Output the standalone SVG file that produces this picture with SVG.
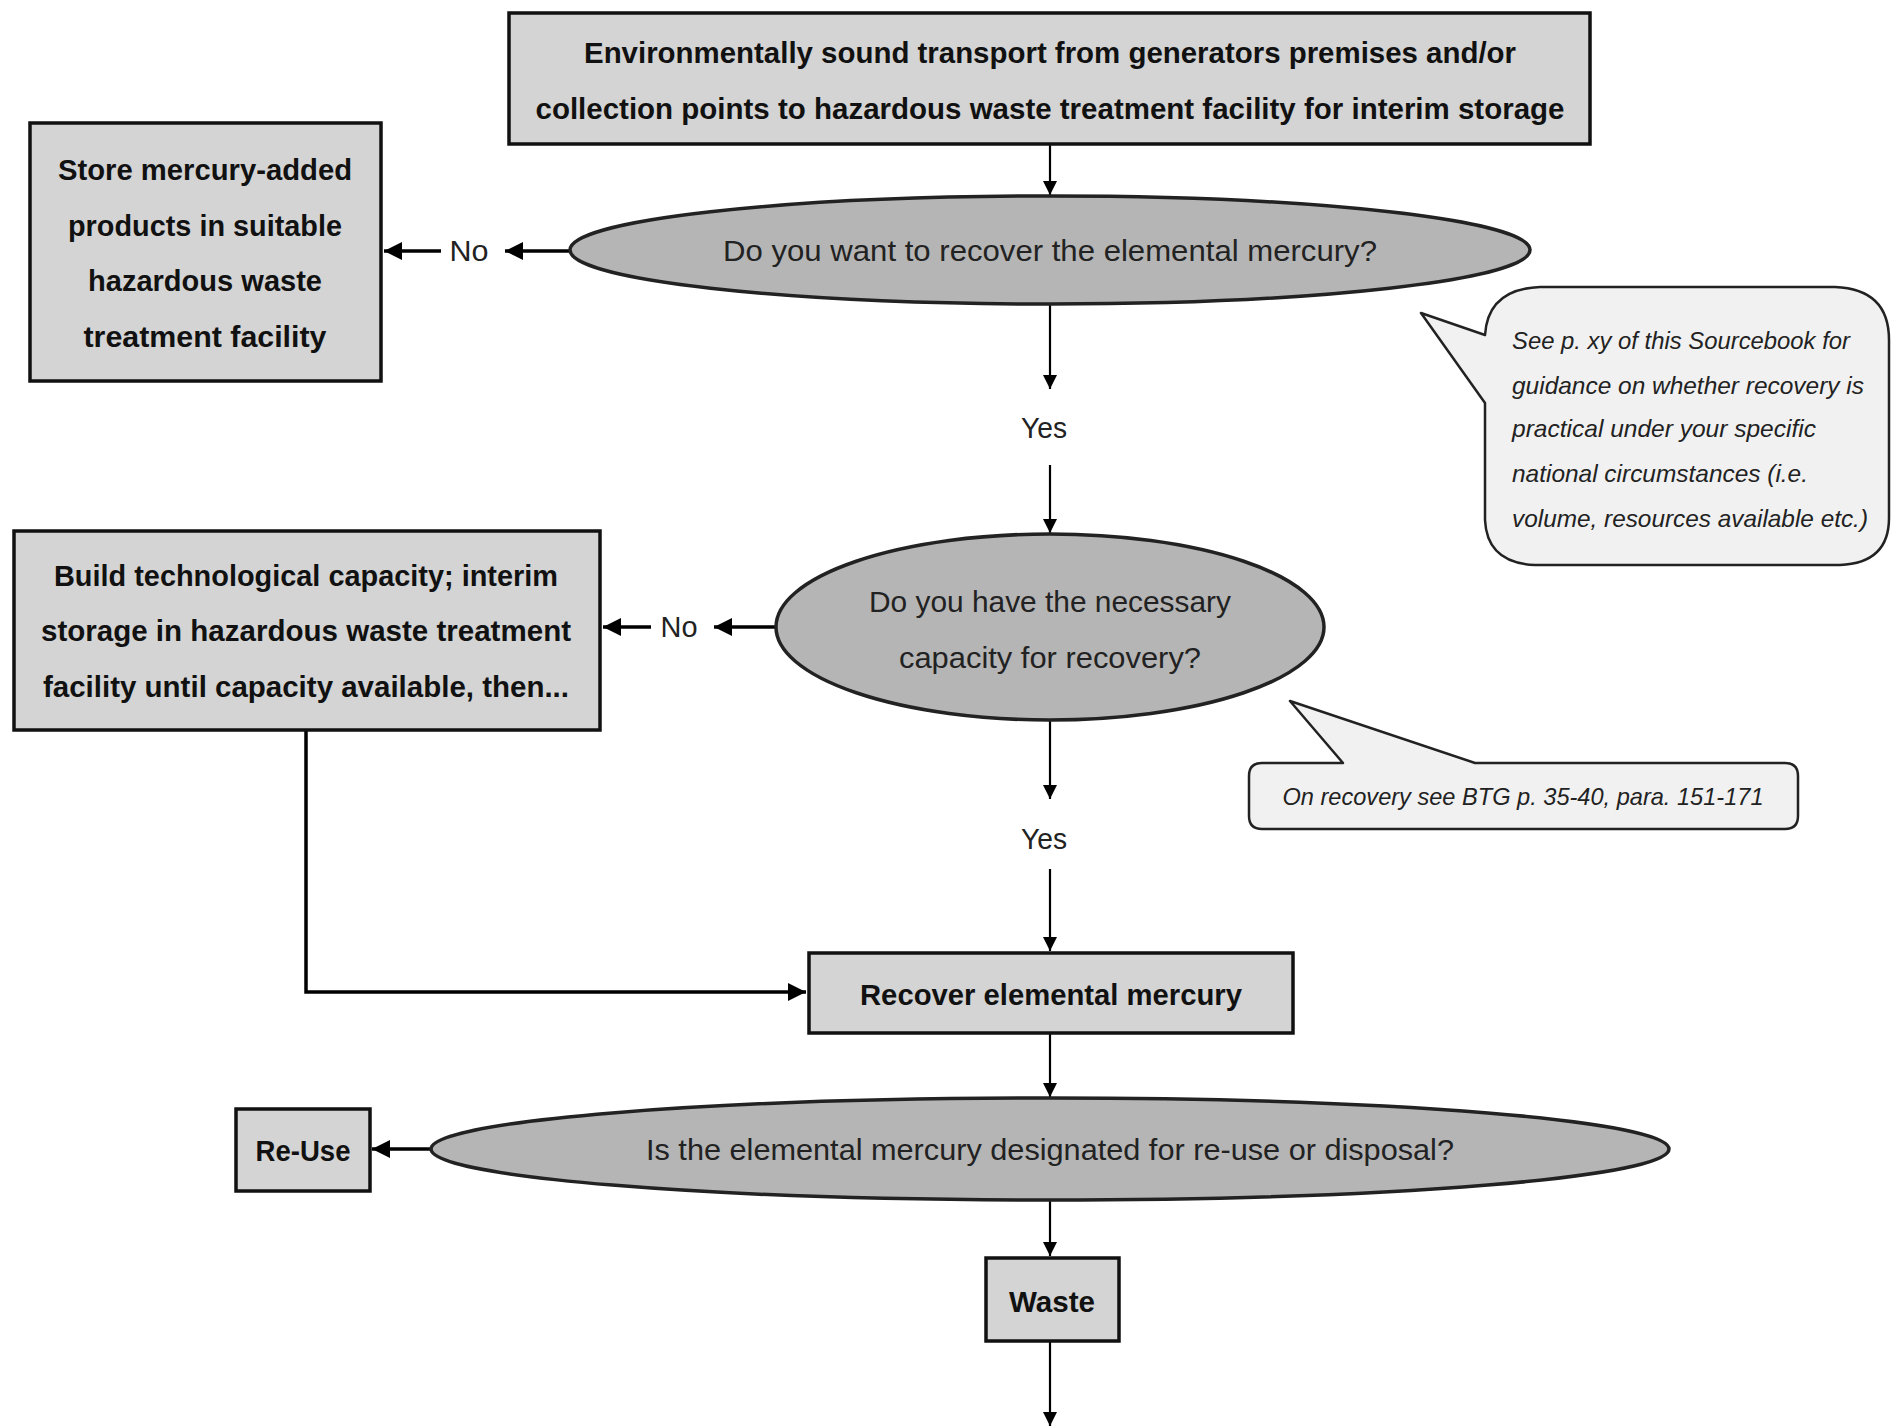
<svg xmlns="http://www.w3.org/2000/svg" width="1892" height="1426" viewBox="0 0 1892 1426">
<style>
.box{fill:#d4d4d4;stroke:#111;stroke-width:3.5}
.ell{fill:#b5b5b5;stroke:#222;stroke-width:3.5}
.call{fill:#f1f1f1;stroke:#222;stroke-width:2.5;stroke-linejoin:round}
.b{font-family:"Liberation Sans Narrow","Liberation Sans",Arial,sans-serif;font-weight:bold;font-size:29px;fill:#111;text-anchor:middle;dominant-baseline:central}
.r{font-family:"Liberation Sans Narrow","Liberation Sans",Arial,sans-serif;font-size:29px;fill:#222;text-anchor:middle;dominant-baseline:central}
.i{font-family:"Liberation Sans Narrow","Liberation Sans",Arial,sans-serif;font-style:italic;font-size:24px;fill:#222;dominant-baseline:central}
.c{fill:none;stroke:#000;stroke-width:2.2}
.ct{fill:none;stroke:#000;stroke-width:3.5}
</style>
<defs>
<marker id="ah" viewBox="0 0 10 10" refX="10" refY="5" markerUnits="userSpaceOnUse" markerWidth="14" markerHeight="14" orient="auto"><path d="M0,0 L10,5 L0,10 z" fill="#000"/></marker>
<marker id="ahb" viewBox="0 0 10 10" refX="10" refY="5" markerUnits="userSpaceOnUse" markerWidth="18" markerHeight="18" orient="auto"><path d="M0,0 L10,5 L0,10 z" fill="#000"/></marker>
</defs>
<g id="connectors">
<line class="c" x1="1050" y1="144" x2="1050" y2="195" marker-end="url(#ah)"/>
<line class="ct" x1="569" y1="251" x2="505" y2="251" marker-end="url(#ahb)"/>
<line class="ct" x1="441" y1="251" x2="384" y2="251" marker-end="url(#ahb)"/>
<line class="c" x1="1050" y1="304" x2="1050" y2="389" marker-end="url(#ah)"/>
<line class="c" x1="1050" y1="465" x2="1050" y2="533" marker-end="url(#ah)"/>
<line class="ct" x1="776" y1="627" x2="714" y2="627" marker-end="url(#ahb)"/>
<line class="ct" x1="651" y1="627" x2="603" y2="627" marker-end="url(#ahb)"/>
<line class="c" x1="1050" y1="720" x2="1050" y2="799" marker-end="url(#ah)"/>
<line class="c" x1="1050" y1="869" x2="1050" y2="951" marker-end="url(#ah)"/>
<path class="ct" d="M306,731 V992 H806" marker-end="url(#ahb)"/>
<line class="c" x1="1050" y1="1034" x2="1050" y2="1097" marker-end="url(#ah)"/>
<line class="ct" x1="431" y1="1149" x2="372" y2="1149" marker-end="url(#ahb)"/>
<line class="c" x1="1050" y1="1200" x2="1050" y2="1256" marker-end="url(#ah)"/>
<line class="c" x1="1050" y1="1342" x2="1050" y2="1426" marker-end="url(#ah)"/>
<text class="r" x="469" y="251" textLength="39" lengthAdjust="spacingAndGlyphs">No</text>
<text class="r" x="1044" y="428" textLength="46" lengthAdjust="spacingAndGlyphs">Yes</text>
<text class="r" x="679" y="627" textLength="37" lengthAdjust="spacingAndGlyphs">No</text>
<text class="r" x="1044" y="839" textLength="46" lengthAdjust="spacingAndGlyphs">Yes</text>
</g>
<g id="transport">
<rect class="box" x="509" y="13" width="1081" height="131"/>
<text class="b" x="1050" y="53" textLength="932" lengthAdjust="spacingAndGlyphs">Environmentally sound transport from generators premises and/or</text>
<text class="b" x="1050" y="109" textLength="1029" lengthAdjust="spacingAndGlyphs">collection points to hazardous waste treatment facility for interim storage</text>
</g>
<g id="q-recover">
<ellipse class="ell" cx="1050" cy="250" rx="480" ry="54"/>
<text class="r" x="1050" y="251" textLength="654" lengthAdjust="spacingAndGlyphs">Do you want to recover the elemental mercury?</text>
</g>
<g id="store">
<rect class="box" x="30" y="123" width="351" height="258"/>
<text class="b" x="205" y="170" textLength="294" lengthAdjust="spacingAndGlyphs">Store mercury-added</text>
<text class="b" x="205" y="226" textLength="274" lengthAdjust="spacingAndGlyphs">products in suitable</text>
<text class="b" x="205" y="281" textLength="234" lengthAdjust="spacingAndGlyphs">hazardous waste</text>
<text class="b" x="205" y="337" textLength="243" lengthAdjust="spacingAndGlyphs">treatment facility</text>
</g>
<g id="note1">
<path class="call" d="M1485,403 L1421,313 L1485,335 Q1488,289 1540,287 H1835 Q1889,289 1889,340 V518 Q1889,563 1840,565 H1535 Q1487,563 1485,520 Z"/>
<text class="i" x="1512" y="340" textLength="338" lengthAdjust="spacingAndGlyphs">See p. xy of this Sourcebook for</text>
<text class="i" x="1512" y="385" textLength="352" lengthAdjust="spacingAndGlyphs">guidance on whether recovery is</text>
<text class="i" x="1512" y="428" textLength="304" lengthAdjust="spacingAndGlyphs">practical under your specific</text>
<text class="i" x="1512" y="473" textLength="296" lengthAdjust="spacingAndGlyphs">national circumstances (i.e.</text>
<text class="i" x="1512" y="518" textLength="356" lengthAdjust="spacingAndGlyphs">volume, resources available etc.)</text>
</g>
<g id="q-capacity">
<ellipse class="ell" cx="1050" cy="627" rx="274" ry="93"/>
<text class="r" x="1050" y="602" textLength="362" lengthAdjust="spacingAndGlyphs">Do you have the necessary</text>
<text class="r" x="1050" y="658" textLength="302" lengthAdjust="spacingAndGlyphs">capacity for recovery?</text>
</g>
<g id="build">
<rect class="box" x="14" y="531" width="586" height="199"/>
<text class="b" x="306" y="576" textLength="504" lengthAdjust="spacingAndGlyphs">Build technological capacity; interim</text>
<text class="b" x="306" y="631" textLength="530" lengthAdjust="spacingAndGlyphs">storage in hazardous waste treatment</text>
<text class="b" x="306" y="687" textLength="526" lengthAdjust="spacingAndGlyphs">facility until capacity available, then...</text>
</g>
<g id="note2">
<path class="call" d="M1262,763 H1343 L1290,701 L1475,763 H1785 Q1798,763 1798,776 V816 Q1798,829 1785,829 H1262 Q1249,829 1249,816 V776 Q1249,763 1262,763 Z"/>
<text class="i" x="1523" y="796" text-anchor="middle" textLength="481" lengthAdjust="spacingAndGlyphs">On recovery see BTG p. 35-40, para. 151-171</text>
</g>
<g id="recover">
<rect class="box" x="809" y="953" width="484" height="80"/>
<text class="b" x="1051" y="995" textLength="382" lengthAdjust="spacingAndGlyphs">Recover elemental mercury</text>
</g>
<g id="q-designated">
<ellipse class="ell" cx="1050" cy="1149" rx="619" ry="51"/>
<text class="r" x="1050" y="1150" textLength="808" lengthAdjust="spacingAndGlyphs">Is the elemental mercury designated for re-use or disposal?</text>
</g>
<g id="reuse">
<rect class="box" x="236" y="1109" width="134" height="82"/>
<text class="b" x="303" y="1151" textLength="95" lengthAdjust="spacingAndGlyphs">Re-Use</text>
</g>
<g id="waste">
<rect class="box" x="986" y="1258" width="133" height="83"/>
<text class="b" x="1052" y="1302" textLength="86" lengthAdjust="spacingAndGlyphs">Waste</text>
</g>
</svg>
